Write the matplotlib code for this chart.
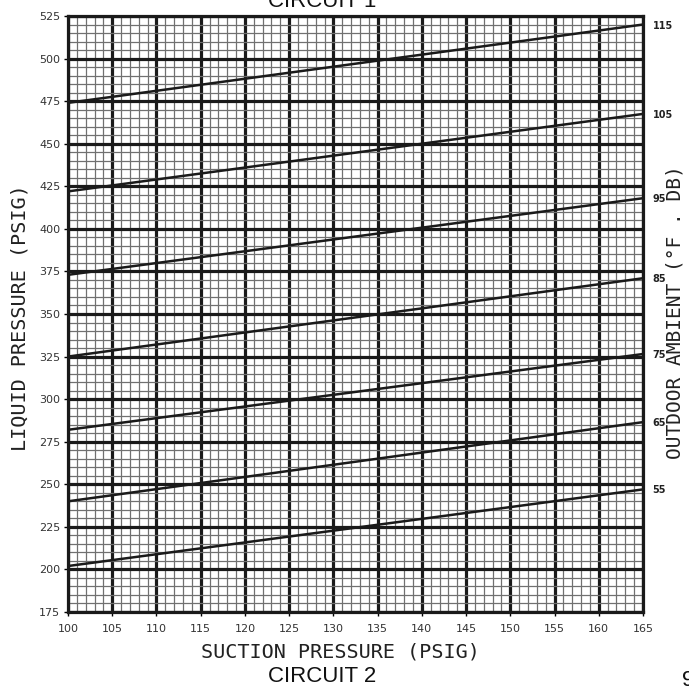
import numpy as np
from matplotlib import pyplot as plt
from matplotlib.ticker import MultipleLocator

# Outdoor ambient lines: liquid pressure at suction 100 and 165 psig
ambient = [55, 65, 75, 85, 95, 105, 115]
suction_ends = [100, 165]
liquid_at_100 = [202, 240, 282, 325, 373, 422, 474]
liquid_at_165 = [247, 286.5, 326.5, 371, 418, 467.5, 520]

x_ticks = np.arange(100, 166, 5)
y_ticks = np.arange(175, 526, 25)

fig = plt.figure(figsize=(6.89, 6.87), dpi=100)
ax = fig.add_axes([68 / 689, 1 - 612 / 687, 575 / 689, 596 / 687])

ax.set_xlim(100, 165)
ax.set_ylim(175, 525)
ax.set_xticks(x_ticks)
ax.set_yticks(y_ticks)
ax.xaxis.set_minor_locator(MultipleLocator(1))
ax.yaxis.set_minor_locator(MultipleLocator(5))

ax.set_axisbelow(True)
ax.grid(which='minor', color='#707070', linewidth=0.9)
ax.grid(which='major', color='#1a1a1a', linewidth=2.3)
for s in ax.spines.values():
    s.set_linewidth(2.3)
    s.set_color('#1a1a1a')

ax.tick_params(which='major', direction='out', length=3, width=1,
               labelsize=8, labelcolor='#333333')
ax.tick_params(axis='x', pad=5.5)
ax.tick_params(axis='y', pad=2.5, right=False)
ax.tick_params(which='minor', length=0)

for i in range(len(ambient)):
    ax.plot(suction_ends, [liquid_at_100[i], liquid_at_165[i]],
            color='#1a1a1a', linewidth=1.8, zorder=3, solid_capstyle='butt')

# right side ambient labels
ax2 = ax.twinx()
ax2.set_ylim(175, 525)
ax2.set_yticks(liquid_at_165)
ax2.set_yticklabels([str(a) for a in ambient], fontweight='bold', fontsize=7)
ax2.tick_params(length=0, pad=7, labelcolor='#222222')
for s in ax2.spines.values():
    s.set_visible(False)

mono = {'family': 'DejaVu Sans Mono', 'fontsize': 14.5, 'color': '#222222'}
fig.text(20 / 689, 1 - 318 / 687, 'LIQUID PRESSURE (PSIG)', rotation=90,
         ha='center', va='center', **mono)
fig.text(675 / 689, 1 - 312 / 687, 'OUTDOOR AMBIENT (°F . DB)', rotation=90,
         ha='center', va='center', fontsize=14, family='DejaVu Sans Mono',
         color='#222222')
fig.text(340 / 689, 1 - 652 / 687, 'SUCTION PRESSURE (PSIG)',
         ha='center', va='center', **mono)

sans = {'family': 'Liberation Sans', 'fontsize': 16, 'color': '#111111'}
fig.text(322 / 689, 1 - 676 / 687, 'CIRCUIT 2', ha='center', va='center', **sans)
fig.text(322 / 689, 1 - 7 / 687, 'CIRCUIT 1', ha='center', va='baseline', **sans)
fig.text(682 / 689, 1 - 686 / 687, '9', ha='left', va='baseline', **sans)

plt.savefig('out.png', dpi=100)
